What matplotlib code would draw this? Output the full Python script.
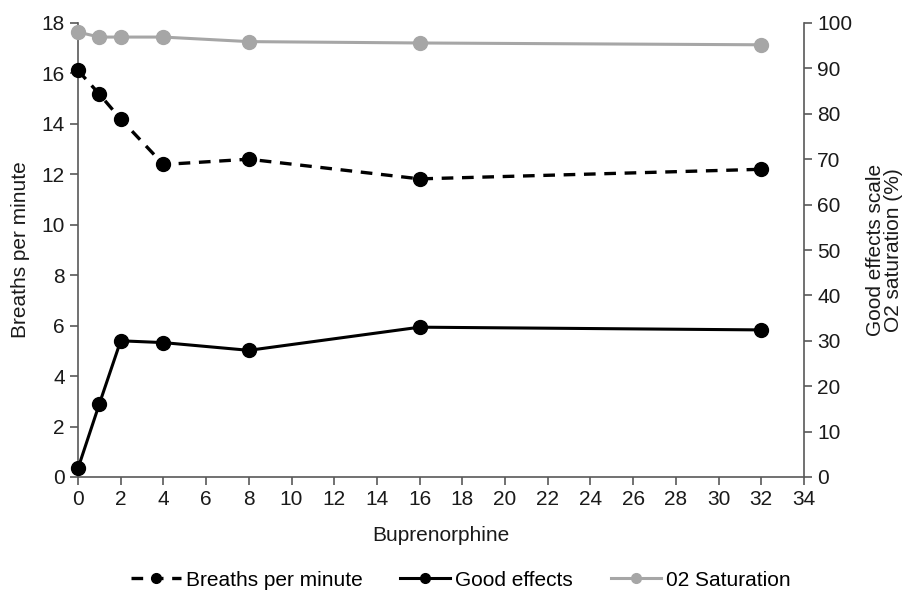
import matplotlib
matplotlib.use("Agg")
import matplotlib.pyplot as plt

plt.rcParams['font.family'] = ['Liberation Sans', 'DejaVu Sans']

dose = [0, 1, 2, 4, 8, 16, 32]
breaths = [16.12, 15.18, 14.19, 12.39, 12.60, 11.82, 12.20]
good_effects = [1.9, 16.1, 30.0, 29.6, 27.9, 33.0, 32.4]
o2_saturation = [98.0, 96.9, 96.9, 96.9, 95.9, 95.6, 95.2]

x_ticks = list(range(0, 35, 2))
left_ticks = list(range(0, 19, 2))
right_ticks = list(range(0, 101, 10))

fig = plt.figure(figsize=(9.12, 5.96), dpi=100)
ax = fig.add_axes([78/912, 1-477/596, (804-78)/912, (477-23)/596])
ax2 = ax.twinx()

spine_c = '#595959'
fs = 15

l1, = ax.plot(dose, breaths, color='black', lw=2.4, ls=(0, (3.5, 2.6)),
              marker='o', ms=10, label='Breaths per minute', zorder=3)
l2, = ax2.plot(dose, good_effects, color='black', lw=2.2,
               marker='o', ms=10, label='Good effects', zorder=3)
l3, = ax2.plot(dose, o2_saturation, color='#A6A6A6', lw=2.2,
               marker='o', ms=10, label='02 Saturation', zorder=3)

ax.set_xlim(0, 34)
ax.set_ylim(0, 18)
ax2.set_ylim(0, 100)
ax.set_xticks(x_ticks)
ax.set_yticks(left_ticks)
ax2.set_yticks(right_ticks)

for a in (ax, ax2):
    a.spines['top'].set_visible(False)
    for s in ('left', 'right', 'bottom'):
        a.spines[s].set_color(spine_c)
        a.spines[s].set_linewidth(1.2)
    a.tick_params(axis='both', labelsize=fs, colors=spine_c, labelcolor='#1a1a1a',
                  length=6, width=1.2)
ax.spines['right'].set_visible(False)
ax2.spines['left'].set_visible(False)
ax2.spines['bottom'].set_visible(False)

ax.set_xlabel('Buprenorphine', fontsize=fs, color='#1a1a1a', labelpad=12)
ax.set_ylabel('Breaths per minute', fontsize=fs, color='#1a1a1a', labelpad=8)
ax2.set_ylabel('Good effects scale\nO2 saturation (%)', fontsize=fs, color='#1a1a1a',
               labelpad=10, linespacing=0.9)

for a in (ax, ax2):
    for line in a.get_lines():
        line.set_clip_on(False)

fig.legend(handles=[l1, l2, l3], loc='center', bbox_to_anchor=(0.505, 1-580/596),
           ncol=3, frameon=False, fontsize=fs, handlelength=2.4, handletextpad=0.25,
           columnspacing=1.8, markerscale=0.7)

fig.savefig('out.png', dpi=100)
